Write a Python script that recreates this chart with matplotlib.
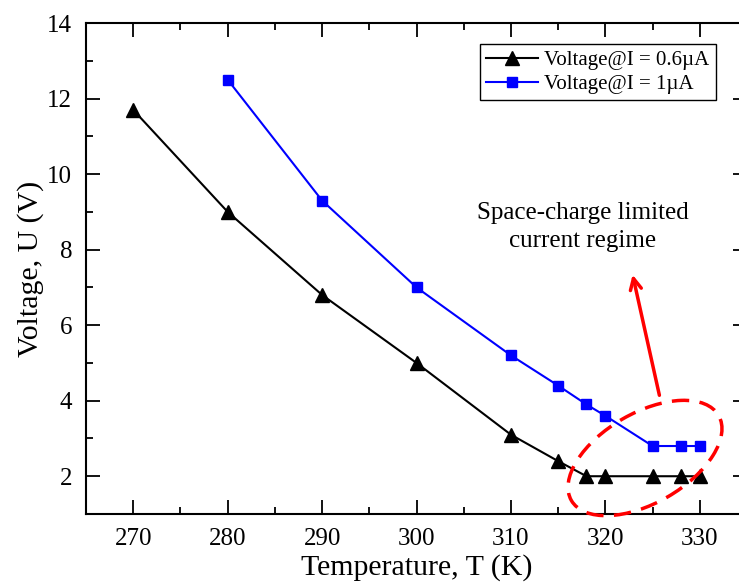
import matplotlib
matplotlib.use('Agg')
import matplotlib.pyplot as plt
from matplotlib.patches import Ellipse, FancyArrowPatch
from matplotlib.ticker import MultipleLocator

plt.rcParams['font.family'] = ['Liberation Serif', 'DejaVu Serif']

# data
temp_06 = [270, 280, 290, 300, 310, 315, 318, 320, 325, 328, 330]
volt_06 = [11.7, 9.0, 6.8, 5.0, 3.1, 2.4, 2.0, 2.0, 2.0, 2.0, 2.0]
temp_1 = [280, 290, 300, 310, 315, 318, 320, 325, 328, 330]
volt_1 = [12.5, 9.3, 7.0, 5.2, 4.4, 3.9, 3.6, 2.8, 2.8, 2.8]
label_06 = 'Voltage@I = 0.6\u00b5A'
label_1 = 'Voltage@I = 1\u00b5A'

fig = plt.figure(figsize=(7.39, 5.84), dpi=100)
# right spine sits just past the image edge in the reference
ax = fig.add_axes([86 / 739, 70 / 584, 661 / 739, 491 / 584])

ax.plot(temp_06, volt_06, color='black', marker='^', markersize=9.5, lw=1.5, label=label_06)
ax.plot(temp_1, volt_1, color='blue', marker='s', markersize=7, lw=1.5, label=label_1)

ax.set_xlim(265, 335)
ax.set_ylim(1, 14)
ax.xaxis.set_major_locator(MultipleLocator(10))
ax.xaxis.set_minor_locator(MultipleLocator(5))
ax.yaxis.set_major_locator(MultipleLocator(2))
ax.yaxis.set_minor_locator(MultipleLocator(1))
ax.tick_params(which='both', direction='in', top=True, right=True, width=1.3, labelsize=18)
ax.tick_params(which='major', length=10)
ax.tick_params(which='minor', length=5)
ax.tick_params(axis='x', which='major', pad=10)
ax.tick_params(axis='y', which='major', pad=10)
for s in ax.spines.values():
    s.set_linewidth(1.5)

ax.set_xlabel('Temperature, T (K)', fontsize=21.5, labelpad=3)
ax.set_ylabel('Voltage, U (V)', fontsize=21.5, labelpad=2)

leg = ax.legend(loc='upper right', bbox_to_anchor=(0.953, 0.957), fontsize=15,
                fancybox=False, framealpha=1, edgecolor='black', handlelength=2.5,
                borderpad=0.3, labelspacing=0.22, handletextpad=0.3, borderaxespad=0)
leg.get_frame().set_linewidth(1.0)

# dashed ellipse around the flat part (pixel positions via inches)
ell = Ellipse((6.45, 5.84 - 4.58), 1.70, 0.90, angle=30, transform=fig.dpi_scale_trans,
              fill=False, edgecolor='red', lw=2.5, linestyle=(0, (5, 3)), clip_on=False)
fig.add_artist(ell)

fig.add_artist(FancyArrowPatch(
    (6.60, 5.84 - 3.98), (6.32, 5.84 - 2.72), transform=fig.dpi_scale_trans,
    arrowstyle='->,head_length=8,head_width=4', color='red', lw=2.5))

fig.text(5.83 / 7.39, 1 - 2.27 / 5.84, 'Space-charge limited\ncurrent regime', ha='center',
         va='center', fontsize=18, linespacing=1.4)

fig.savefig('out.png', dpi=100)
